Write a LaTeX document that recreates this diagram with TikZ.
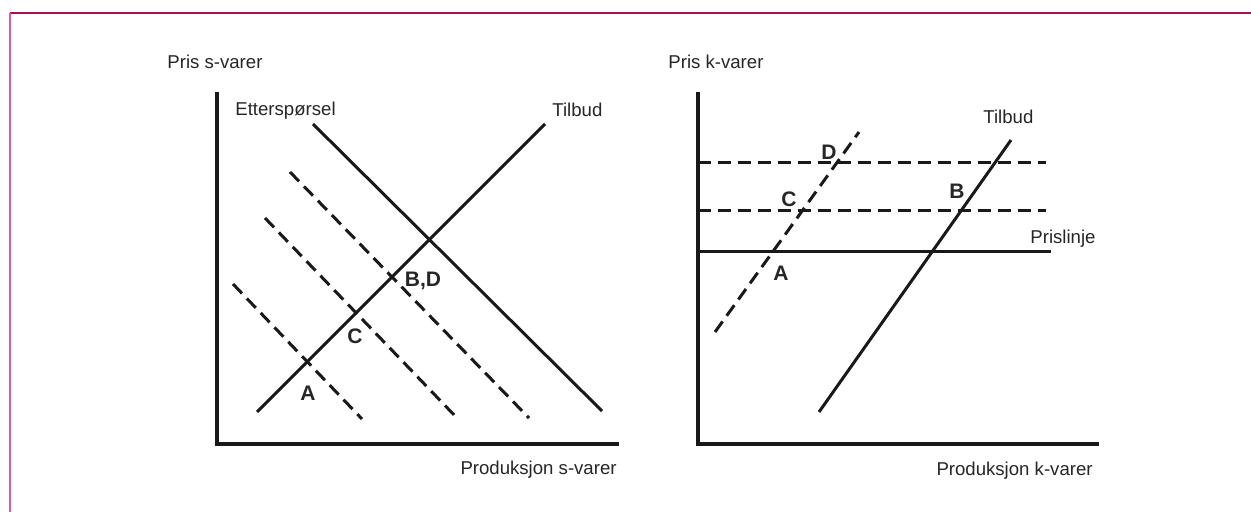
\documentclass[tikz,border=0pt]{standalone}
\usepackage{fontspec}
\setmainfont{Liberation Sans}
\begin{document}
\begin{tikzpicture}[x=0.5pt,y=-0.5pt,
  axis/.style={line width=2pt,draw=black!90},
  curve/.style={line width=1.5pt,draw=black!90},
  dashcurve/.style={line width=1.5pt,draw=black!90,dash pattern=on 6.5pt off 3.5pt},
  lbl/.style={inner sep=0pt,font=\fontsize{9.3pt}{11pt}\selectfont,text=black!85},
  pt/.style={inner sep=0pt,font=\fontsize{10.5pt}{12pt}\selectfont\bfseries,text=black!85}]
\definecolor{frametop}{HTML}{AC0E55}
\definecolor{frameleft}{HTML}{D95C9F}
\useasboundingbox (0,0) rectangle (1251,512);
\fill[white] (0,0) rectangle (1251,512);
% page frame: top and left edges only
\draw[frametop,line width=1pt] (9.5,13.5) -- (1251,13.5);
\draw[frameleft,line width=1pt] (9.5,13.5) -- (9.5,512);

% ---------- left panel: s-goods ----------
\coordinate (ly) at (217,92);
\coordinate (lo) at (217,444);
\coordinate (lx) at (619,444);
\draw[axis] (ly) -- (lo) -- (lx);
\node[lbl,anchor=west] (lyl) at (167,62) {Pris s-varer};
\node[lbl,anchor=east] (lxl) at (617,470) {Produksjon s-varer};
\node[lbl,anchor=west] (dem) at (235,111) {Etterspørsel};
\node[lbl,anchor=west] (lsup) at (552,110) {Tilbud};

\coordinate (d0) at (313,124);
\coordinate (d1) at (602,411);
\draw[curve] (d0) -- (d1);
\coordinate (s0) at (257,412);
\coordinate (s1) at (545,124);
\draw[curve] (s0) -- (s1);

\coordinate (a0) at (233,284);
\coordinate (a1) at (362,419);
\draw[dashcurve] (a0) -- (a1);
\coordinate (b0) at (265,218);
\coordinate (b1) at (457,418);
\draw[dashcurve] (b0) -- (b1);
\coordinate (c0) at (290,172);
\coordinate (c1) at (529,418);
\draw[dashcurve] (c0) -- (c1);

\node[pt] (lA) at (308,393) {A};
\node[pt] (lC) at (355,336) {C};
\node[pt] (lBD) at (423,281) {B,D};

% ---------- right panel: k-goods ----------
\coordinate (ry) at (698,92);
\coordinate (ro) at (698,444);
\coordinate (rx) at (1099,444);
\draw[axis] (ry) -- (ro) -- (rx);
\node[lbl,anchor=west] (ryl) at (668,62) {Pris k-varer};
\node[lbl,anchor=east] (rxl) at (1093,471) {Produksjon k-varer};
\node[lbl,anchor=west] (rsup) at (983,117) {Tilbud};
\node[lbl,anchor=west] (pl) at (1030,239) {Prislinje};

\coordinate (h1a) at (698,163);
\coordinate (h1b) at (1046,163);
\draw[dashcurve] (h1a) -- (h1b);
\coordinate (h2a) at (698,211);
\coordinate (h2b) at (1046,211);
\draw[dashcurve] (h2a) -- (h2b);
\coordinate (p0) at (698,252);
\coordinate (p1) at (1051,252);
\draw[curve] (p0) -- (p1);

\coordinate (k0) at (819,412);
\coordinate (k1) at (1011,140);
\draw[curve] (k0) -- (k1);
\coordinate (q0) at (715,332);
\coordinate (q1) at (859,132);
\draw[dashcurve] (q0) -- (q1);

\node[pt] (rD) at (829,152) {D};
\node[pt] (rC) at (789,199) {C};
\node[pt] (rA) at (781,273) {A};
\node[pt] (rB) at (957,191) {B};
\end{tikzpicture}
\end{document}
